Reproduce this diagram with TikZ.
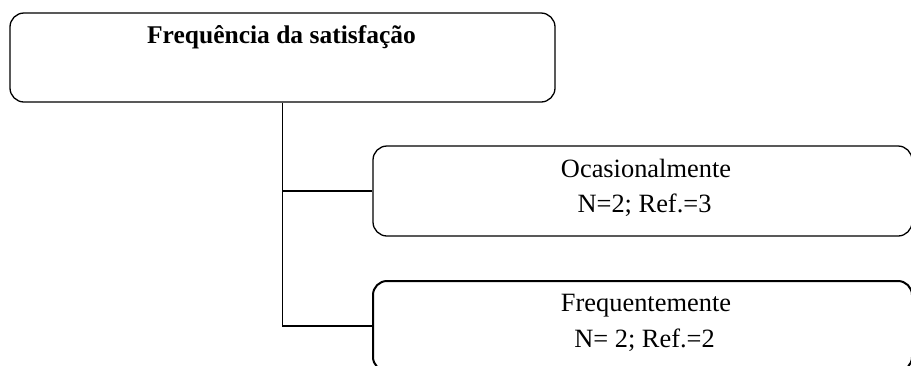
\documentclass[tikz,border=0pt]{standalone}
\usepackage{fontspec}
\setmainfont{Liberation Serif}
\begin{document}
\begin{tikzpicture}[x=1pt,y=-1pt,
  card/.style={draw=black,line width=1.3pt,rounded corners=14pt,inner sep=0pt},
  wire/.style={draw=black,line width=1.2pt},
  txt/.style={anchor=base,inner sep=0pt,font=\fontsize{26.4}{30}\selectfont},
  ttl/.style={anchor=base,inner sep=0pt,font=\fontsize{25.5}{30}\selectfont\bfseries}]
\useasboundingbox (0,0) rectangle (911,365);
% boxes
\node[card,minimum width=545pt,minimum height=89pt] (top) at (282.5,57.5) {};
\node[card,minimum width=539pt,minimum height=90pt] (occ) at (642.5,191) {};
\node[card,line width=2pt,minimum width=539pt,minimum height=90pt] (freq) at (642.5,326) {};
% texts
\node[ttl] (ttlA) at (281.5,43) {Frequência da satisfação};
\node[txt] (occA) at (646,177) {Ocasionalmente};
\node[txt] (occB) at (644.5,212) {N=2; Ref.=3};
\node[txt] (freqA) at (646,311) {Frequentemente};
\node[txt] (freqB) at (644.5,347) {N= 2; Ref.=2};
% connectors
\draw[wire] (top.south) |- (freq.west);
\draw[wire] (top.south |- occ.west) -- (occ.west);
\end{tikzpicture}
\end{document}
